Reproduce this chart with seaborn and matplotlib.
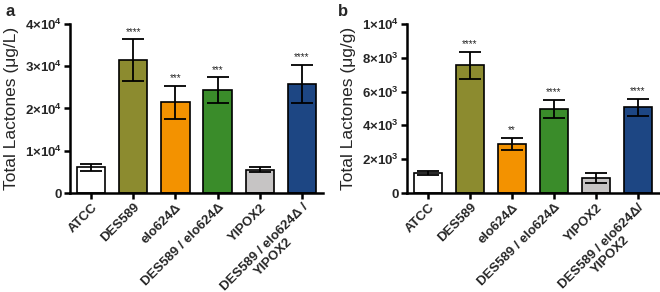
import matplotlib
matplotlib.use("Agg")
import matplotlib.pyplot as plt
import seaborn as sns
import pandas as pd
import numpy as np
from matplotlib.ticker import FixedLocator

sns.set_theme(style="ticks")
plt.rcParams['font.family'] = ['Liberation Sans', 'DejaVu Sans']
plt.rcParams['mathtext.fontset'] = 'custom'
plt.rcParams['mathtext.rm'] = 'Liberation Sans'
plt.rcParams['mathtext.bf'] = 'Liberation Sans:bold'

strains_a = ["ATCC", "DES589", "elo624Δ", "DES589 / elo624Δ", "YIPOX2", "DES589 / elo624Δ /\nYIPOX2"]
strains_b = ["ATCC", "DES589", "elo624Δ", "DES589 / elo624Δ", "YIPOX2", "DES589 / elo624Δ/\nYIPOX2"]
colors = ["#FFFFFF", "#8C8B2F", "#F39200", "#3A8C2A", "#C6C4C4", "#1D4683"]

titer_mean = [6100, 31500, 21500, 24300, 5500, 25900]
titer_err = [800, 4900, 3900, 3100, 550, 4500]
titer_sig = ["", "****", "***", "***", "", "****"]

content_mean = [1180, 7550, 2900, 4980, 890, 5060]
content_err = [120, 800, 350, 550, 300, 500]
content_sig = ["", "****", "**", "****", "", "****"]

yticks_a = [0, 10000, 20000, 30000, 40000]
yticklabels_a = ["0", r"$\mathbf{1{\times}10^{4}}$", r"$\mathbf{2{\times}10^{4}}$",
                 r"$\mathbf{3{\times}10^{4}}$", r"$\mathbf{4{\times}10^{4}}$"]
yticks_b = [0, 2000, 4000, 6000, 8000, 10000]
yticklabels_b = ["0", r"$\mathbf{2{\times}10^{3}}$", r"$\mathbf{4{\times}10^{3}}$",
                 r"$\mathbf{6{\times}10^{3}}$", r"$\mathbf{8{\times}10^{3}}$",
                 r"$\mathbf{1{\times}10^{4}}$"]

fig = plt.figure(figsize=(6.6, 2.92), dpi=100)
ax_a = fig.add_axes([70/660, 1-193/292, (323-70)/660, (193-24)/292])
ax_b = fig.add_axes([407/660, 1-193/292, (659-407)/660, (193-24)/292])


def panel(ax, strains, means, errs, sigs, yticks, ylabels, ymax, ylabel, letter, letter_x):
    df = pd.DataFrame({"strain": strains, "value": means})
    sns.barplot(data=df, x="strain", y="value", hue="strain", palette=colors,
                order=strains, hue_order=strains, legend=False, width=0.67,
                saturation=1, edgecolor="black", linewidth=1.2, ax=ax, errorbar=None)
    x = np.arange(len(strains))
    ax.errorbar(x, means, yerr=errs, fmt="none", ecolor="black", elinewidth=1.3,
                capsize=8, capthick=1.3, zorder=5)
    for xi, m, e, s in zip(x, means, errs, sigs):
        if s:
            ax.text(xi, m + e + ymax*0.015, s, ha="center", va="bottom", fontsize=7)
    ax.set_xlim(-0.5, len(strains) - 0.5)
    ax.set_ylim(0, ymax)
    ax.yaxis.set_major_locator(FixedLocator(yticks))
    ax.set_yticklabels(ylabels, fontsize=9.5, fontweight="bold")
    ax.set_xticks(x)
    ax.set_xticklabels(strains, rotation=45, ha="right", rotation_mode="anchor",
                       fontsize=9.5, fontweight="bold", multialignment="center",
                       linespacing=1.1)
    ax.set_xlabel("")
    ax.set_ylabel(ylabel, fontsize=12.5, labelpad=4)
    for sp in ["top", "right"]:
        ax.spines[sp].set_visible(False)
    for sp in ["left", "bottom"]:
        ax.spines[sp].set_linewidth(1.8)
        ax.spines[sp].set_color("black")
    ax.tick_params(axis="y", width=1.8, length=4, color="black", pad=2)
    ax.tick_params(axis="x", width=1.8, length=4, color="black", pad=2)
    fig.text(letter_x, 1-12/292, letter, fontsize=12, fontweight="bold", va="center")


panel(ax_a, strains_a, titer_mean, titer_err, titer_sig, yticks_a, yticklabels_a,
      40000, "Total Lactones (μg/L)", "a", 6/660)
panel(ax_b, strains_b, content_mean, content_err, content_sig, yticks_b, yticklabels_b,
      10000, "Total Lactones (μg/g)", "b", 338/660)

fig.savefig("out.png", dpi=100)
